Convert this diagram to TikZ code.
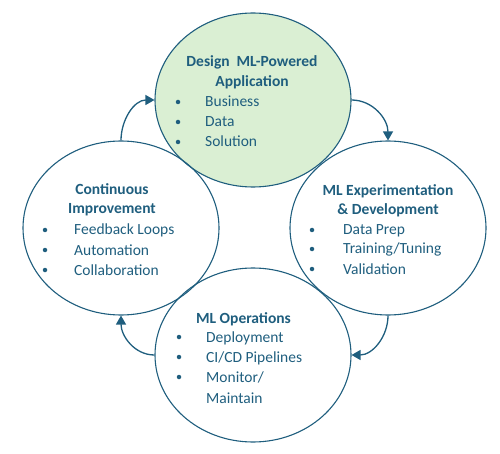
\documentclass[tikz,border=0pt]{standalone}
\usepackage{fontspec}
\setmainfont{Carlito}
\usetikzlibrary{arrows.meta,shapes.geometric}
\definecolor{mlblue}{RGB}{31,94,126}
\definecolor{mlgreen}{RGB}{218,239,211}

\begin{document}
\begin{tikzpicture}[x=1pt, y=-1pt, font=\fontsize{15.5}{20}\selectfont, text=mlblue,
    stage/.style={ellipse, draw=mlblue, line width=1.1pt, minimum width=196pt, minimum height=174pt, inner sep=0pt},
    head/.style={font=\fontsize{15.5}{19.5}\selectfont\bfseries, align=center},
    item/.style={anchor=base west, inner sep=0pt},
    dot/.style={circle, fill=mlblue, inner sep=0pt, minimum size=4.5pt},
    loop/.style={draw=mlblue, line width=1.3pt, -{Triangle[length=9pt,width=10pt]}}]
    \useasboundingbox (0,0) rectangle (500,454);

    % stages
    \node[stage, fill=mlgreen] (design) at (253,100) {};
    \node[stage] (improve) at (121,228) {};
    \node[stage] (experiment) at (388,228) {};
    \node[stage] (ops) at (253,355) {};

    % headings
    \node[head] (designhead) at (252,72.5) {Design~~ML-Powered\\Application};
    \node[head] (improvehead) at (112,200) {Continuous\\Improvement};
    \node[head] (experimenthead) at (388,201) {ML Experimentation\\\& Development};
    \node[head, anchor=base] (opshead) at (243.5,323) {ML Operations};

    % bullet lists
    \foreach \y/\t [count=\i] in {102/Business,122/Data,142/Solution} {
      \node[dot] (designdot\i) at (178,\y) {};
      \node[item] (designitem\i) at (205,\y+5) {\t};
    }
    \foreach \y/\t [count=\i] in {230/Feedback Loops,250/Automation,270/Collaboration} {
      \node[dot] (improvedot\i) at (45,\y) {};
      \node[item] (improveitem\i) at (74,\y+5) {\t};
    }
    \foreach \y/\t [count=\i] in {230/Data Prep,249/{Training/Tuning},269/Validation} {
      \node[dot] (experimentdot\i) at (312,\y) {};
      \node[item] (experimentitem\i) at (343,\y+5) {\t};
    }
    \foreach \y/\t [count=\i] in {337/Deployment,357/{CI/CD Pipelines},377/{Monitor/}} {
      \node[dot] (opsdot\i) at (179,\y) {};
      \node[item] (opsitem\i) at (206,\y+5) {\t};
    }
    \node[item] (opsitem4) at (206,403) {Maintain};

    % cycle
    \draw[loop] (design.east) to[out=0, in=90] (experiment.north);
    \draw[loop] (experiment.south) to[out=-90, in=0] (ops.east);
    \draw[loop] (ops.west) to[out=180, in=-90] (improve.south);
    \draw[loop] (improve.north) to[out=90, in=180] (design.west);
\end{tikzpicture}
\end{document}
